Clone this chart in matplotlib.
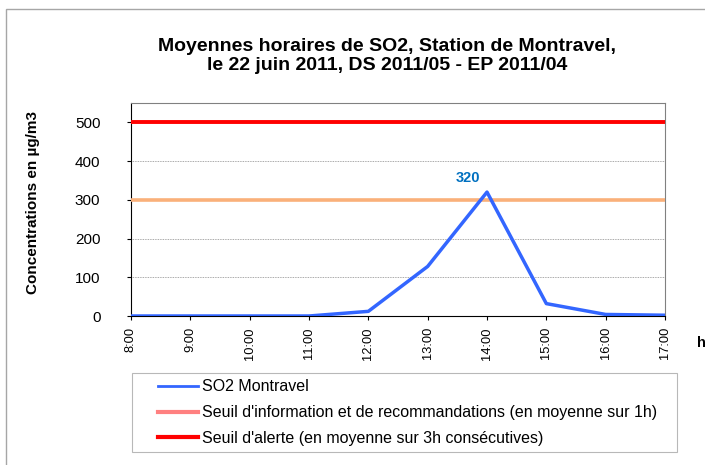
import matplotlib
matplotlib.use("Agg")
import matplotlib.pyplot as plt
from matplotlib.lines import Line2D
from matplotlib.patches import Rectangle
from matplotlib.legend_handler import HandlerLine2D

plt.rcParams['font.family'] = ['Liberation Sans', 'DejaVu Sans']

hours = ["8:00", "9:00", "10:00", "11:00", "12:00", "13:00", "14:00", "15:00", "16:00", "17:00"]
so2 = [0, 0, 0, 0, 12, 128, 320, 32, 4, 2]
seuil_info = 300
seuil_alerte = 500
yticks = [0, 100, 200, 300, 400, 500]


class TrimHandler(HandlerLine2D):
    def create_artists(self, legend, orig_handle, xdescent, ydescent, width, height, fontsize, trans):
        arts = super().create_artists(legend, orig_handle, xdescent, ydescent, width, height, fontsize, trans)
        line = arts[0]
        y = list(line.get_ydata())[0]
        line.set_data([-xdescent + width * 0.33, -xdescent + width], [y, y])
        return arts


W, H = 705, 465
fig = plt.figure(figsize=(W / 100, H / 100), dpi=100)
fig.patches.append(Rectangle((6/W, -0.1), 1.2, 1.1 - 9/H, transform=fig.transFigure,
                             fill=False, edgecolor='#a6a6a6', linewidth=1.0))
ax = fig.add_axes([131/W, 1 - 316/H, (665-131)/W, (316-103)/H])
x = list(range(len(hours)))

ax.plot(x, so2, color='#3366ff', linewidth=2.5, zorder=4)
ax.axhline(seuil_info, color='#fab07a', linewidth=2.6, zorder=3)
ax.axhline(seuil_alerte, color='#ff0000', linewidth=2.8, zorder=3)

imax = so2.index(max(so2))
ax.annotate(str(max(so2)), (x[imax], so2[imax]), xytext=(-14, 5), textcoords='offset points',
            ha='center', va='bottom', color='#0070c0', fontweight='bold', fontsize=10.5)

ax.set_xlim(0, len(hours) - 1)
ax.set_ylim(0, 550)
ax.set_yticks(yticks)
ax.set_xticks(x)
ax.set_xticklabels(hours, rotation=90, fontsize=9.3)
ax.tick_params(axis='y', labelsize=11, length=3, direction='out', pad=19)
ax.tick_params(axis='x', length=3, direction='out', pad=5)
for v in yticks[1:]:
    ax.axhline(v, color='#8c8c8c', linewidth=0.6, linestyle=(0, (1, 1)), zorder=1)
ax.spines['top'].set_color('#808080')
ax.spines['right'].set_color('#808080')
ax.spines['left'].set_color('black')
ax.spines['bottom'].set_color('black')

fig.text(33/W, 1 - 202/H, "Concentrations en µg/m3", fontweight='bold', fontsize=11,
         rotation=90, ha='center', va='center')
fig.text(697/W, 1 - 343/H, "h", fontweight='bold', fontsize=10.5, ha='left', va='center')

fig.text(387/W, 1 - 56/H, "Moyennes horaires de SO2, Station de Montravel,\nle 22 juin 2011, DS 2011/05 - EP 2011/04",
         ha='center', va='center', fontweight='bold', fontsize=14, linespacing=1.22)

handles = [Line2D([], [], color='#3366ff', linewidth=2),
           Line2D([], [], color='#ff8080', linewidth=3),
           Line2D([], [], color='#ff0000', linewidth=3)]
labels = ["SO2 Montravel",
          "Seuil d'information et de recommandations (en moyenne sur 1h)",
          "Seuil d'alerte (en moyenne sur 3h consécutives)"]
leg = fig.legend(handles, labels, loc='upper left',
                 bbox_to_anchor=(132/W, 1 - 453/H, (677-132)/W, (453-373)/H), mode='expand',
                 fontsize=11.5, frameon=True, fancybox=False, edgecolor='#a6a6a6',
                 handlelength=3.73, handletextpad=0.25, borderpad=0.4, labelspacing=0.675,
                 borderaxespad=0, handler_map={Line2D: TrimHandler()})
leg.get_frame().set_linewidth(0.8)

fig.savefig("out.png", dpi=100)
